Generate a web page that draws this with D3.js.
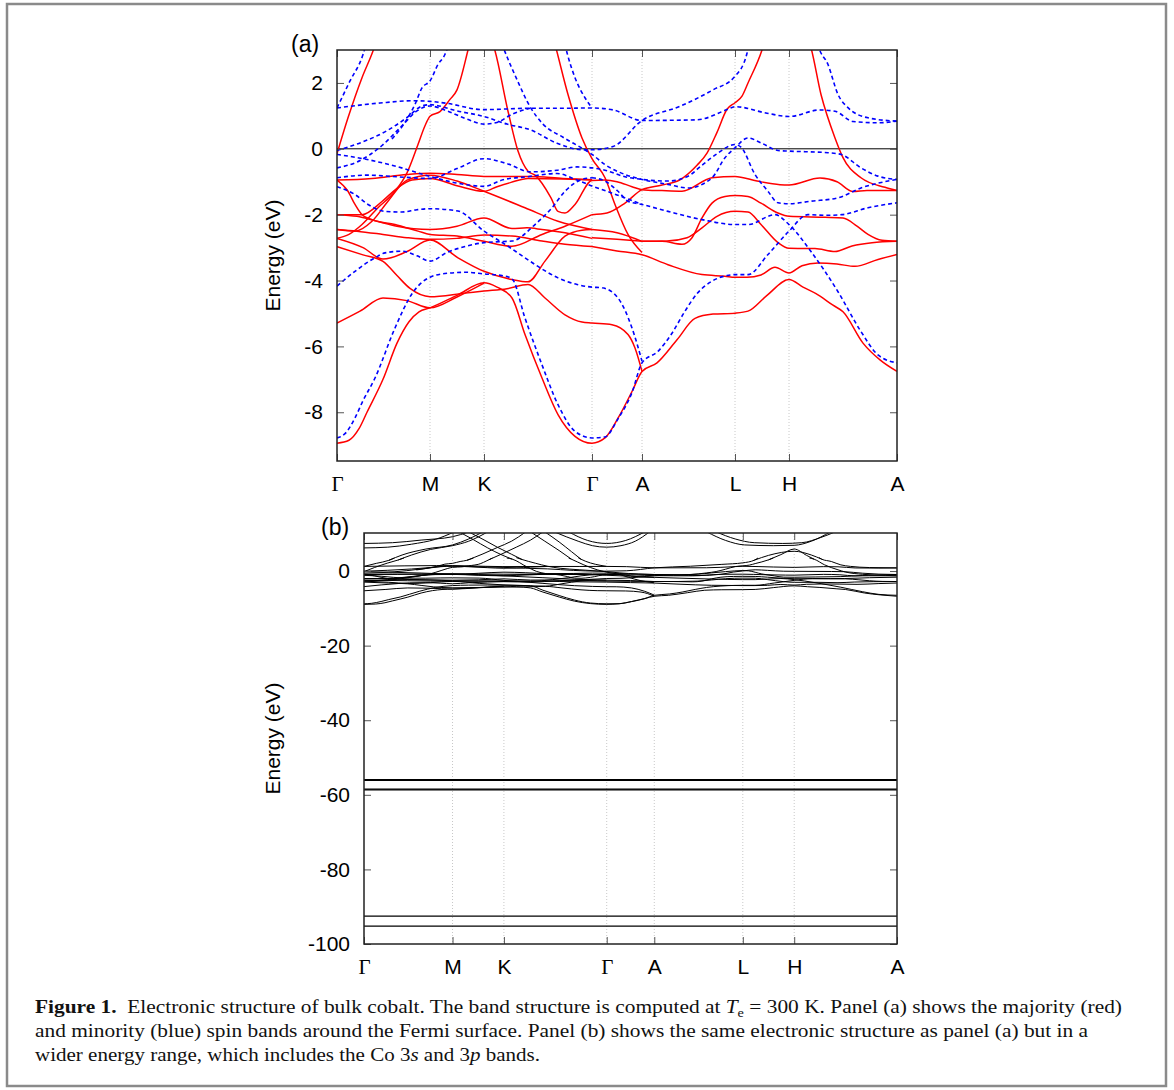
<!DOCTYPE html>
<html>
<head>
<meta charset="utf-8">
<script src="https://cdn.jsdelivr.net/npm/d3@7"></script>
<style>
body { margin: 0; background: #fff; }
text { font-family: "Liberation Sans", Arial, sans-serif; }
.caption text { font-family: "Liberation Serif", "Times New Roman", serif; }
</style>
</head>
<body>
<svg id="fig" width="1174" height="1090"></svg>
<script>
// k path (positions along the path, panel-a pixel units 0..560)
const kLabels = ["Γ", "M", "K", "Γ", "A", "L", "H", "A"];
const kPoints = [0, 93, 147, 255, 305, 398, 452, 560];

const yTicksA = [-8, -6, -4, -2, 0, 2];
const yTicksB = [-100, -80, -60, -40, -20, 0];

// majority spin bands, [k, E(eV)]
const majorityBands = [
	[[0,-8.94],[12,-8.85],[22,-8.5],[30,-8.0],[46,-7.0],[60,-5.9],[72,-5.25],[82,-4.95],[93,-4.83],[120,-4.45],[147,-4.07],[160,-4.2],[175,-4.53],[188,-5.64],[205,-6.96],[221,-8.07],[238,-8.73],[255,-8.94],[268,-8.78],[281,-8.18],[295,-7.37],[305,-6.76],[320,-6.5],[340,-5.8],[358,-5.15],[376,-5.02],[398,-4.99],[411,-4.93],[430,-4.45],[452,-3.97],[466,-4.2],[479,-4.4],[496,-4.75],[506,-4.95],[526,-5.9],[543,-6.41],[560,-6.76]],
	[[0,-5.29],[23,-4.93],[46,-4.53],[70,-4.61],[93,-4.83],[120,-4.5],[147,-4.08]],
	[[0,-2.72],[26,-3.0],[46,-3.35],[70,-3.12],[93,-2.77],[121,-3.31],[147,-3.72],[175,-3.97],[191,-4.04],[208,-3.41],[228,-2.65],[245,-2.47],[255,-2.45]],
	[[0,-2.97],[26,-3.22],[46,-3.42],[60,-3.85],[73,-4.24],[93,-4.49],[126,-4.39],[147,-4.32],[170,-4.25],[191,-4.12],[208,-4.53],[228,-5.04],[245,-5.26],[255,-5.29],[275,-5.34],[291,-5.64],[298,-6.05],[305,-6.76]],
	[[0,-2.45],[18,-2.5],[35,-2.2],[51,-1.59],[70,-0.95],[93,-0.8],[120,-0.98],[147,-1.29],[188,-1.79],[221,-2.2],[255,-2.45]],
	[[0,-0.95],[35,-0.9],[70,-0.78],[93,-0.74],[120,-0.78],[147,-0.84],[193,-0.84],[226,-0.9],[255,-0.94]],
	[[0,-2.72],[12,-2.6],[25,-2.3],[41,-1.79],[58,-1.29],[70,-0.73],[81,0.13],[88,0.7],[93,0.99],[103,1.13],[113,1.5],[120,1.79],[131,3.0],[135,3.5]],
	[[0,-2.0],[25,-2.0],[45,-1.6],[60,-1.2],[75,-0.95],[93,-0.9],[120,-1.12],[147,-1.29],[160,-1.15],[174,-1.02],[191,-0.9],[228,-0.92],[255,-0.95]],
	[[0,-0.95],[11,-1.29],[18,-1.69],[25,-2.0],[35,-2.15],[58,-2.3],[81,-2.5],[93,-2.6],[120,-2.65],[147,-2.81],[175,-2.96],[205,-2.6],[228,-2.35],[255,-2.0]],
	[[0,-2.0],[20,-2.05],[40,-2.2],[60,-2.35],[93,-2.45],[120,-2.35],[147,-2.1],[175,-2.42],[190,-2.4],[205,-2.45],[228,-2.55],[255,-2.72]],
	[[0,-2.45],[20,-2.5],[46,-2.6],[70,-2.7],[93,-2.75],[120,-2.72],[147,-2.62],[175,-2.65],[205,-2.8],[228,-2.9],[255,-2.97]],
	[[0,-0.15],[11,0.94],[25,2.16],[36,2.97],[42,3.5]],
	[[150,3.5],[156,3.17],[171,1.14],[181,-0.07],[191,-0.68],[198,-0.8],[214,-1.49],[221,-1.9],[228,-1.95],[238,-1.69],[255,-0.96],[268,-0.95],[280,-1.0],[295,-1.15],[305,-1.24],[325,-1.27],[345,-1.29],[375,-0.88],[398,-0.84],[420,-0.98],[443,-1.09],[452,-1.1],[483,-0.89],[500,-1.0],[516,-1.3],[530,-1.27],[560,-1.27]],
	[[215,3.5],[218,3.17],[231,1.65],[245,0.33],[255,-0.3],[268,-0.88],[278,-1.69],[291,-2.6],[305,-3.15]],
	[[255,-2.0],[270,-1.95],[288,-1.65],[305,-1.24],[325,-1.1],[343,-0.94],[360,-0.5],[370,-0.13],[380,0.5],[390,1.2],[398,1.4],[405,1.6],[411,2.0],[425,3.0],[430,3.5]],
	[[255,-2.45],[280,-2.55],[305,-2.81]],
	[[255,-2.7],[280,-2.75],[305,-2.81]],
	[[255,-2.97],[280,-3.1],[305,-3.22],[331,-3.52],[365,-3.82],[388,-3.87],[398,-3.9],[410,-3.9],[424,-3.83],[438,-3.6],[452,-3.77],[465,-3.55],[481,-3.47],[500,-3.5],[518,-3.57],[541,-3.36],[560,-3.21]],
	[[305,-2.81],[325,-2.81],[345,-2.9],[355,-2.7],[365,-2.1],[375,-1.65],[388,-1.45],[398,-1.42],[411,-1.45],[424,-1.65],[441,-1.95],[452,-2.05],[488,-2.08],[506,-2.1],[520,-2.35],[531,-2.6],[545,-2.78],[560,-2.81]],
	[[305,-2.81],[330,-2.8],[350,-2.7],[365,-2.4],[380,-2.05],[398,-1.9],[411,-1.92],[424,-2.3],[441,-2.85],[452,-3.02],[478,-3.03],[498,-3.12],[515,-2.95],[535,-2.85],[560,-2.81]],
	[[468,3.5],[473,3.17],[484,1.65],[498,0.33],[506,-0.27],[524,-0.88],[548,-1.17],[560,-1.27]]
];

// minority spin bands, [k, E(eV)]
const minorityBands = [
	[[0,-8.78],[8,-8.65],[18,-8.17],[26,-7.65],[38,-6.96],[58,-5.44],[75,-4.4],[93,-3.9],[110,-3.78],[130,-3.75],[147,-3.8],[165,-3.85],[175,-3.95],[188,-5.14],[205,-6.56],[221,-7.77],[238,-8.58],[255,-8.78],[268,-8.75],[281,-8.2],[295,-7.4],[305,-6.5],[321,-6.15],[335,-5.6],[348,-4.93],[360,-4.4],[375,-4.02],[390,-3.85],[398,-3.82],[411,-3.82],[431,-3.21],[452,-2.5],[471,-2.0],[490,-2.02],[505,-2.0],[531,-1.79],[560,-1.64]],
	[[255,-0.88],[268,-0.98],[281,-1.29],[291,-1.59],[305,-1.69],[331,-1.9],[365,-2.15],[398,-2.3],[411,-2.3],[438,-2.0],[452,-2.3],[474,-3.12],[501,-4.34],[524,-5.55],[541,-6.26],[560,-6.5]],
	[[0,-1.15],[18,-1.39],[31,-1.69],[48,-1.9],[65,-1.92],[80,-1.85],[93,-1.82],[121,-1.89],[147,-2.5],[168,-2.9],[188,-3.31],[205,-3.65],[221,-3.92],[240,-4.12],[255,-4.2],[265,-4.22],[281,-4.53],[295,-5.44],[305,-6.45]],
	[[0,-4.17],[18,-3.72],[38,-3.31],[48,-3.16],[65,-3.11],[80,-3.25],[93,-3.41],[110,-3.15],[130,-2.95],[147,-2.85],[162,-2.82],[175,-2.8],[198,-2.3],[215,-1.79],[228,-1.29],[245,-0.93],[255,-0.88]],
	[[0,1.24],[43,1.39],[76,1.46],[93,1.44],[110,1.38],[146,1.19],[193,1.23],[226,1.23],[255,1.24],[276,1.18],[305,0.86],[360,0.88],[390,1.19],[398,1.28],[430,1.08],[452,0.98],[483,1.18],[498,1.14],[516,0.83],[541,0.79],[560,0.84]],
	[[0,1.24],[13,2.06],[26,2.86],[32,3.5]],
	[[225,3.6],[228,3.17],[238,2.16],[248,1.55],[255,1.24]],
	[[0,-0.05],[25,0.2],[50,0.55],[70,0.95],[85,1.3],[93,1.34],[120,1.15],[147,0.98],[170,0.75],[193,0.58],[220,0.17],[246,-0.03],[255,-0.03],[276,0.07],[305,0.86],[343,1.29],[376,1.79],[398,2.2],[410,2.9],[414,3.5]],
	[[0,-0.58],[20,-0.4],[45,0.1],[65,0.7],[80,1.15],[93,1.3],[110,1.15],[130,0.9],[147,0.75],[160,0.8],[175,1.05],[193,1.23]],
	[[160,3.6],[166,3.1],[180,2.1],[193,1.28],[206,0.75],[226,0.35],[246,0.0],[255,-0.17],[268,-0.48],[288,-0.78],[305,-0.93],[331,-1.08],[351,-1.19],[375,-0.88],[388,-0.27],[398,0.03],[411,0.33],[424,0.18],[441,-0.05],[452,-0.07],[491,-0.12],[504,-0.17],[524,-0.58],[541,-0.83],[560,-0.93]],
	[[55,0.3],[70,0.9],[78,1.35],[85,1.85],[93,2.06],[101,2.56],[108,2.87],[115,3.5]],
	[[0,-0.88],[30,-0.8],[60,-0.85],[93,-0.9],[120,-0.6],[147,-0.3],[170,-0.45],[193,-0.7],[220,-0.65],[240,-0.55],[255,-0.58],[268,-0.65],[288,-0.85],[305,-0.93],[331,-0.98],[350,-0.85],[365,-0.5],[380,-0.15],[398,0.13],[404,0.05],[418,-0.78],[431,-1.29],[441,-1.64],[452,-1.67],[474,-1.59],[501,-1.49],[524,-1.19],[560,-0.93]],
	[[0,-0.17],[26,-0.3],[60,-0.54],[93,-0.84],[120,-1.04],[147,-1.14],[166,-0.94],[190,-0.85],[220,-0.75],[240,-0.95],[255,-1.13],[280,-1.4],[305,-1.69]],
	[[478,3.6],[481,3.17],[491,2.56],[501,1.65],[511,1.25],[531,0.94],[560,0.84]]
];

// bands above 3 eV, only visible in the wide panel
const upperBands = [
	[[36,2.97],[50,4.3],[70,5.8],[93,6.8],[110,8.0],[130,10.5]],
	[[26,2.86],[40,4.3],[65,5.9],[93,7.0],[110,8.6],[125,10.5]],
	[[131,3.0],[145,4.6],[160,6.4],[175,8.3],[188,10.5]],
	[[108,2.87],[125,4.6],[140,6.3],[155,8.0],[170,10.5]],
	[[100,10.5],[115,8.4],[130,6.2],[145,4.3],[156,3.17]],
	[[110,10.5],[125,8.5],[140,6.4],[155,4.5],[166,3.1]],
	[[175,10.5],[190,8.0],[205,5.5],[218,3.17]],
	[[190,10.5],[205,7.8],[218,5.2],[228,3.17]],
	[[425,3.0],[438,4.4],[452,5.9],[465,4.2],[473,3.17]],
	[[410,2.9],[425,4.2],[452,5.3],[470,4.3],[481,3.17]],
	[[200,10.5],[225,8.0],[240,6.8],[255,6.4],[270,6.8],[285,8.0],[300,10.5]],
	[[215,10.5],[235,8.2],[255,7.4],[275,8.2],[295,10.5]],
	[[0,7.4],[30,7.6],[60,8.3],[93,9.2],[110,10.5]],
	[[0,6.2],[25,6.4],[50,7.2],[75,8.5],[95,10.5]],
	[[360,10.5],[380,8.2],[400,7.0],[430,6.8],[452,6.9],[470,8.0],[490,10.5]],
	[[370,10.5],[390,8.6],[410,7.6],[440,7.4],[460,7.6],[480,9.0],[495,10.5]]
];

// Co 3p and 3s semicore levels (eV)
const coreLevels = [-55.95, -56.15, -58.5, -58.7, -92.5, -95.2];

const svg = d3.select("#fig");

const line = (x, y) => d3.line().x(d => x(d[0])).y(d => y(d[1])).curve(d3.curveMonotoneX);

function drawPanel(id, box, yTicks, tag, opts) {
	let x = d3.scaleLinear().domain([0, 560]).range([box.x0, box.x1]);
	let y = d3.scaleLinear().domain([box.eMin, box.eMax]).range([box.y1, box.y0]);
	let g = svg.append("g").attr("id", id);

	g.append("clipPath").attr("id", id + "-clip")
		.append("rect")
		.attr("x", box.x0).attr("y", box.y0)
		.attr("width", box.x1 - box.x0).attr("height", box.y1 - box.y0);

	// dotted verticals at the symmetry points
	g.selectAll(".grid")
		.data(kPoints.slice(1, -1))
		.enter().append("line")
		.attr("x1", d => x(d)).attr("x2", d => x(d))
		.attr("y1", box.y0).attr("y2", box.y1)
		.attr("stroke", "#c8c8c8").attr("stroke-width", 1)
		.attr("stroke-dasharray", "1,2");

	let plot = g.append("g").attr("clip-path", `url(#${id}-clip)`);
	let path = line(x, y);

	if (opts.colored) {
		plot.append("line")
			.attr("x1", box.x0).attr("x2", box.x1)
			.attr("y1", y(0)).attr("y2", y(0))
			.attr("stroke", "#000").attr("stroke-width", 1);

		plot.selectAll(".maj").data(majorityBands).enter().append("path")
			.attr("d", path).attr("fill", "none")
			.attr("stroke", "#ff0000").attr("stroke-width", 1.5);

		plot.selectAll(".min").data(minorityBands).enter().append("path")
			.attr("d", path).attr("fill", "none")
			.attr("stroke", "#0000ff").attr("stroke-width", 1.6)
			.attr("stroke-dasharray", "4,3");
	} else {
		let all = majorityBands.concat(minorityBands, upperBands);
		plot.selectAll(".band").data(all).enter().append("path")
			.attr("d", path).attr("fill", "none")
			.attr("stroke", "#000").attr("stroke-width", 1);

		plot.selectAll(".core").data(coreLevels).enter().append("line")
			.attr("x1", box.x0).attr("x2", box.x1)
			.attr("y1", d => y(d)).attr("y2", d => y(d))
			.attr("stroke", "#000").attr("stroke-width", 1.2);
	}

	// axes, ticks pointing inward
	let fmt = d => String(d);
	let left = g.append("g").attr("transform", `translate(${box.x0},0)`)
		.call(d3.axisLeft(y).tickValues(yTicks).tickSizeInner(-7).tickSizeOuter(0).tickPadding(14).tickFormat(fmt));
	g.append("g").attr("transform", `translate(${box.x1},0)`)
		.call(d3.axisRight(y).tickValues(yTicks).tickSizeInner(-7).tickSizeOuter(0).tickFormat(""));
	let bottom = g.append("g").attr("transform", `translate(0,${box.y1})`)
		.call(d3.axisBottom(x).tickValues(kPoints).tickSizeInner(-7).tickSizeOuter(0).tickPadding(15)
			.tickFormat((d, i) => kLabels[i]));
	g.append("g").attr("transform", `translate(0,${box.y0})`)
		.call(d3.axisTop(x).tickValues(kPoints).tickSizeInner(-7).tickSizeOuter(0).tickFormat(""));

	g.selectAll(".domain").remove();
	g.selectAll(".tick line").attr("stroke", "#555");
	left.selectAll("text").attr("font-size", 21).attr("fill", "#000")
		.style("font-family", "'Liberation Sans', Arial, sans-serif");
	bottom.selectAll("text").attr("font-size", 21).attr("fill", "#000")
		.style("font-family", (d, i) => kLabels[i] == "Γ" ? "'Liberation Serif', serif" : "'Liberation Sans', Arial, sans-serif");

	g.append("rect")
		.attr("x", box.x0).attr("y", box.y0)
		.attr("width", box.x1 - box.x0).attr("height", box.y1 - box.y0)
		.attr("fill", "none").attr("stroke", "#222").attr("stroke-width", 1.5);

	g.append("text")
		.attr("transform", `translate(${box.labelX},${(box.y0 + box.y1) / 2}) rotate(-90)`)
		.attr("text-anchor", "middle").attr("dy", "0.35em")
		.attr("font-size", 21)
		.text("Energy (eV)");

	g.append("text")
		.attr("x", box.tagX).attr("y", box.tagY)
		.attr("font-size", 23)
		.text(tag);
}

drawPanel("panelA",
	{x0: 337, x1: 897, y0: 50, y1: 461, eMin: -9.48, eMax: 3.0, labelX: 273, tagX: 291, tagY: 52},
	yTicksA, "(a)", {colored: true});

drawPanel("panelB",
	{x0: 364, x1: 897, y0: 533, y1: 944, eMin: -100, eMax: 10.2, labelX: 273, tagX: 321, tagY: 535},
	yTicksB, "(b)", {colored: false});

// caption
let cap = svg.append("g").attr("class", "caption").attr("font-size", 19.5).attr("fill", "#111");

let l1 = cap.append("text").attr("x", 35).attr("y", 1013)
	.attr("textLength", 1087).attr("lengthAdjust", "spacingAndGlyphs");
l1.append("tspan").attr("font-weight", "bold").text("Figure 1.");
l1.append("tspan").text("\u2002Electronic structure of bulk cobalt. The band structure is computed at ");
l1.append("tspan").attr("font-style", "italic").text("T");
l1.append("tspan").attr("font-size", 13).attr("dy", 4).text("e");
l1.append("tspan").attr("dy", -4).text(" = 300 K. Panel (a) shows the majority (red)");

cap.append("text").attr("x", 35).attr("y", 1037)
	.attr("textLength", 1053).attr("lengthAdjust", "spacingAndGlyphs")
	.text("and minority (blue) spin bands around the Fermi surface. Panel (b) shows the same electronic structure as panel (a) but in a");

let l3 = cap.append("text").attr("x", 35).attr("y", 1061)
	.attr("textLength", 505).attr("lengthAdjust", "spacingAndGlyphs");
l3.append("tspan").text("wider energy range, which includes the Co 3");
l3.append("tspan").attr("font-style", "italic").text("s");
l3.append("tspan").text(" and 3");
l3.append("tspan").attr("font-style", "italic").text("p");
l3.append("tspan").text(" bands.");

// outer frame
svg.append("rect")
	.attr("x", 7).attr("y", 4).attr("width", 1159).attr("height", 1082)
	.attr("fill", "none").attr("stroke", "#8a8a8a").attr("stroke-width", 2.5);
</script>
</body>
</html>
